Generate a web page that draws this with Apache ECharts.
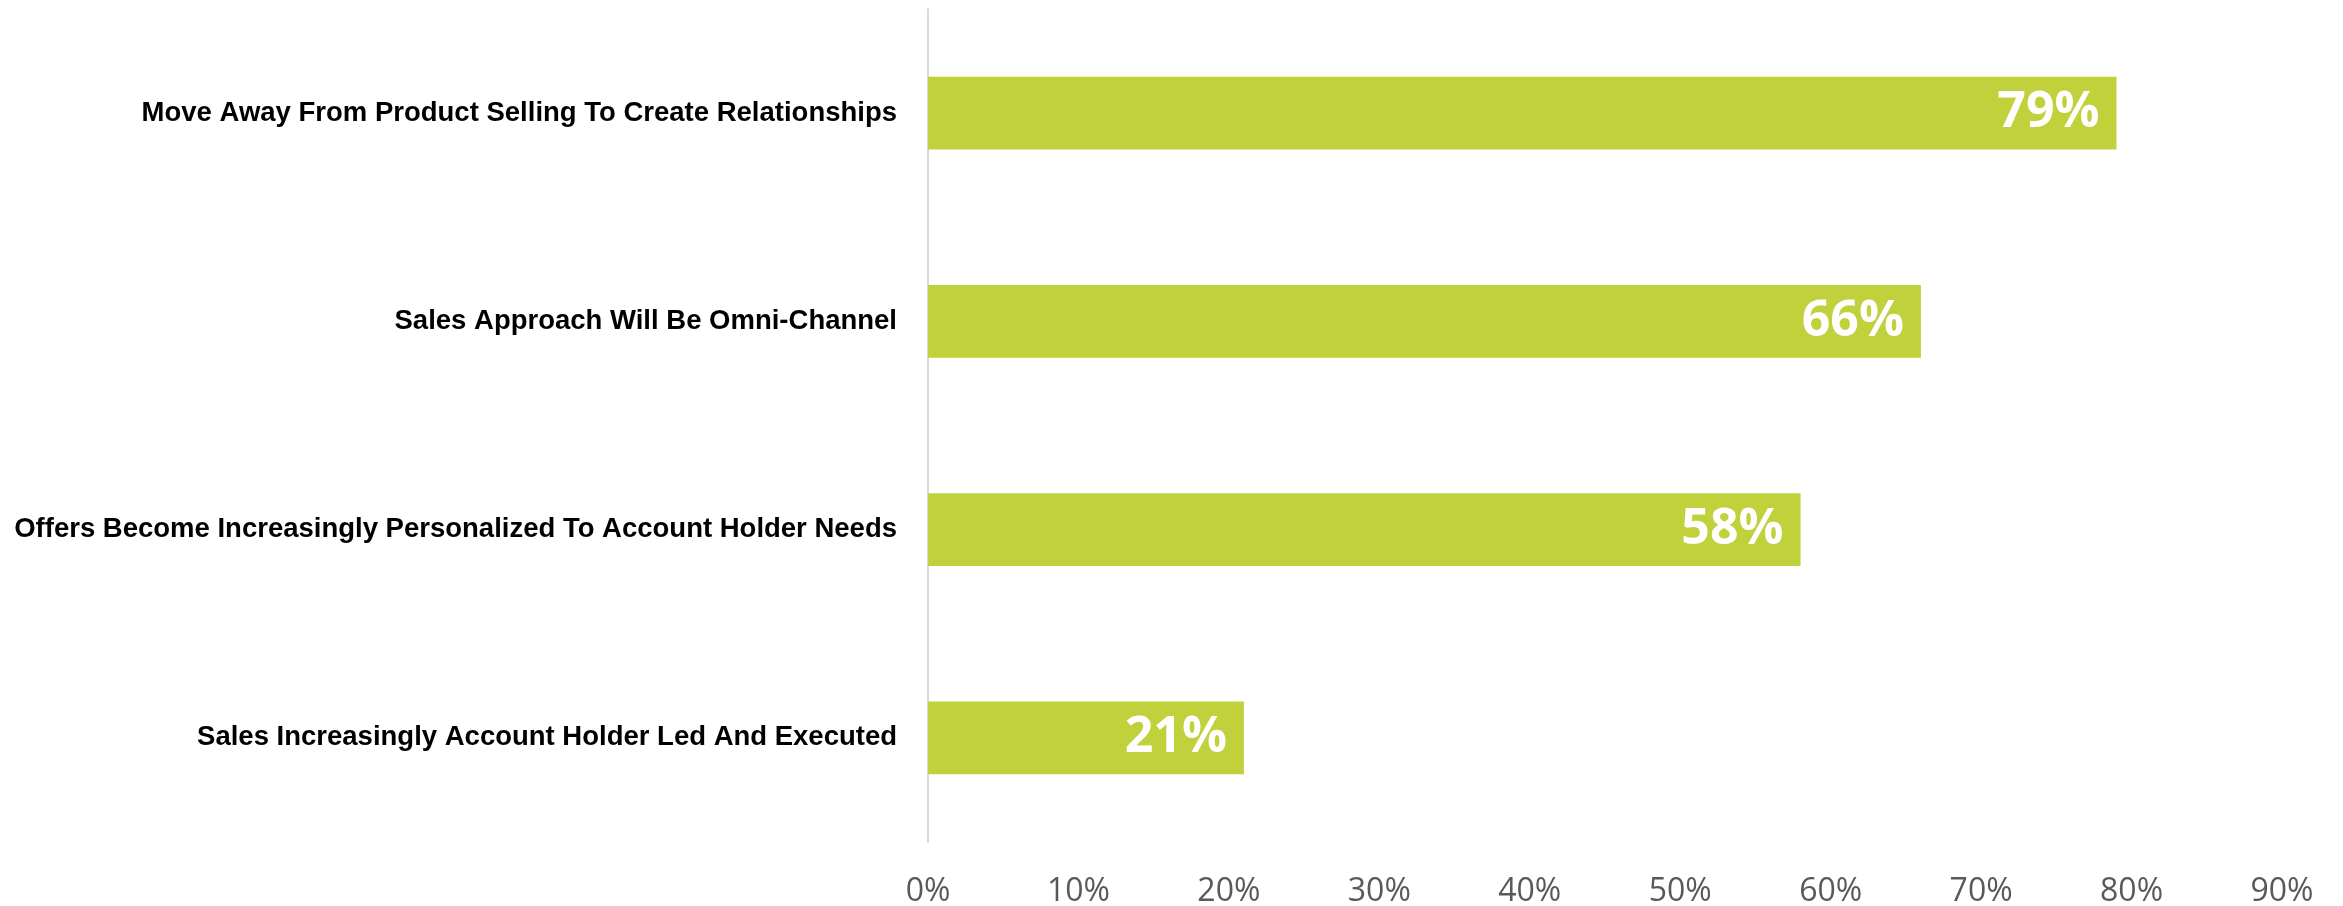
<!DOCTYPE html>
<html>
<head>
<meta charset="utf-8">
<script src="https://cdn.jsdelivr.net/npm/echarts@6/dist/echarts.min.js"></script>
<style>
  html, body { margin: 0; padding: 0; background: #ffffff; }
  #chart { width: 2343px; height: 906px; }
</style>
</head>
<body>
<div id="chart"></div>
<script>
// Survey statements, top to bottom
const categories = [
  'Move Away From Product Selling To Create Relationships',
  'Sales Approach Will Be Omni-Channel',
  'Offers Become Increasingly Personalized To Account Holder Needs',
  'Sales Increasingly Account Holder Led And Executed'
];
// Share of respondents (%)
const values = [79, 66, 58, 21];
// Horizontal axis range (%)
const axisMin = 0;
const axisMax = 90;
const axisStep = 10;

const chart = echarts.init(document.getElementById('chart'));
chart.setOption({
  backgroundColor: '#ffffff',
  animation: false,
  grid: {
    left: 928, right: 61, top: 9, bottom: 64,
    containLabel: false,
    outerBoundsMode: 'none'
  },
  xAxis: {
    type: 'value',
    min: axisMin,
    max: axisMax,
    interval: axisStep,
    axisLine: { show: false },
    axisTick: { show: false },
    splitLine: { show: false },
    axisLabel: {
      formatter: '{value}%',
      color: '#595959',
      fontFamily: 'Open Sans',
      fontSize: 32,
      margin: 34
    }
  },
  yAxis: {
    type: 'category',
    data: categories,
    inverse: true,
    axisLine: { show: true, lineStyle: { color: '#d9d9d9', width: 2 } },
    axisTick: { show: false },
    axisLabel: {
      color: '#000000',
      fontFamily: 'Liberation Sans',
      fontWeight: 'bold',
      fontSize: 27.5,
      margin: 31
    }
  },
  series: [{
    type: 'bar',
    data: values,
    barWidth: '35%',
    itemStyle: { color: '#c1d13c' },
    label: {
      show: true,
      position: 'insideRight',
      distance: 17,
      formatter: '{c}%',
      color: '#ffffff',
      fontFamily: 'Open Sans',
      fontWeight: 'bold',
      fontSize: 50
    }
  }]
});
</script>
</body>
</html>
